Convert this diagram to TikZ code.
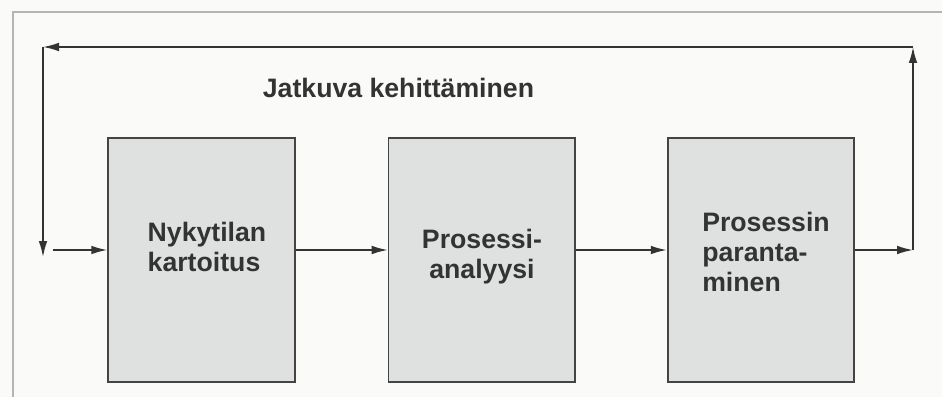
\documentclass[tikz,border=0pt]{standalone}
\usepackage{fontspec}
\setmainfont{Liberation Sans}
\usepackage{xcolor}
\usepackage{tikz}
\usetikzlibrary{arrows.meta, positioning, calc}

\definecolor{boxfill}{HTML}{DFE1E1}
\definecolor{boxline}{HTML}{444444}
\definecolor{inkgray}{HTML}{333333}
\definecolor{framegray}{HTML}{B4B4B4}
\definecolor{papercol}{HTML}{FAFAF8}

\begin{document}
\begin{tikzpicture}[
    x=0.75pt, y=0.75pt,
    phase/.style={rectangle, draw=boxline, line width=1.3pt, fill=boxfill, minimum width=140pt, minimum height=183pt, inner sep=0pt},
    phasetext/.style={inner sep=0pt, text=inkgray, font=\fontsize{20}{22.5}\selectfont\bfseries},
    arrow/.style={draw=inkgray, line width=1.2pt, -{Latex[length=12pt, width=6.5pt]}},
    frame/.style={draw=framegray, line width=1pt}
]
    \fill[papercol] (0,0) rectangle (942,397);
    \useasboundingbox (0,0) rectangle (942,397);
    \draw[frame] (13,0) -- (13,385) -- (942,385);

    % vaiheet
    \node[phase] (n1) at (201.5,137) {};
    \node[phase, right=69pt of n1] (n2) {};
    \node[phase, right=68pt of n2] (n3) {};

    \node[phasetext, align=left] (t1) at (207,150) {Nykytilan\\kartoitus};
    \node[phasetext, align=center] (t2) at (482,140) {Prosessi-\\analyysi};
    \node[phasetext, align=left] (t3) at (766,145) {Prosessin\\paranta-\\minen};

    \node[phasetext] (title) at (398.5,309) {Jatkuva kehittäminen};

    % silmukka
    \coordinate (lvl) at (0,147);
    \coordinate (in) at (53,147);
    \coordinate (out) at (913,147);
    \coordinate (tr) at (913,350);
    \coordinate (tl) at (43,350);
    \coordinate (dn) at (43,140);

    \draw[arrow] (in) -- (n1.west |- lvl);
    \draw[arrow] (n1.east |- lvl) -- (n2.west |- lvl);
    \draw[arrow] (n2.east |- lvl) -- (n3.west |- lvl);
    \draw[arrow] (n3.east |- lvl) -- (out);
    \draw[arrow] (out) -- (tr);
    \draw[arrow] (tr) -- (tl);
    \draw[arrow] (tl) -- (dn);
\end{tikzpicture}
\end{document}
